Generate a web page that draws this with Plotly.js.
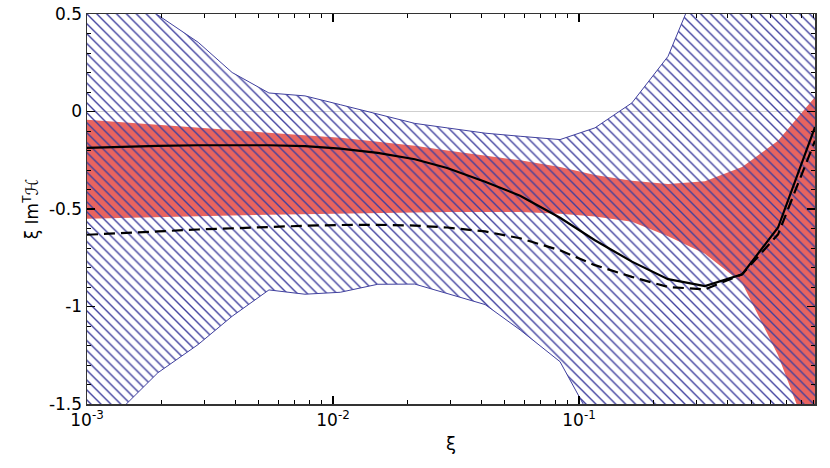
<!DOCTYPE html>
<html>
<head>
<meta charset="utf-8">
<script src="https://cdn.plot.ly/plotly-3.0.1.min.js"></script>
<style>
  html, body { margin: 0; padding: 0; background: #fff; }
  #chart { width: 830px; height: 468px; }
</style>
</head>
<body>
<div id="chart"></div>
<script>
// xi grid (log spaced)
const xi = [0.001, 0.00139, 0.00194, 0.00283, 0.00389, 0.00549, 0.00769, 0.0107,
            0.0152, 0.0215, 0.0291, 0.0415, 0.0576, 0.0837, 0.116, 0.164,
            0.230, 0.325, 0.460, 0.644, 0.91];

// outer (blue hatched) band
const blueUpper = [0.74, 0.62, 0.495, 0.355, 0.20, 0.095, 0.08, 0.035,
                   -0.015, -0.061, -0.084, -0.111, -0.127, -0.144, -0.084, 0.044,
                   0.283, 0.75, 1.2, 1.6, 2.0];
const blueLower = [-1.70, -1.52, -1.34, -1.195, -1.05, -0.915, -0.937, -0.927,
                   -0.886, -0.885, -0.932, -0.99, -1.12, -1.283, -1.61, -2.2,
                   -2.6, -3.0, -3.2, -3.4, -3.5];

// inner (red) band
const redUpper = [-0.042, -0.055, -0.068, -0.082, -0.094, -0.108, -0.120, -0.135,
                  -0.155, -0.175, -0.200, -0.225, -0.250, -0.285, -0.325, -0.355,
                  -0.372, -0.358, -0.285, -0.150, 0.075];
const redLower = [-0.550, -0.545, -0.541, -0.537, -0.533, -0.530, -0.527, -0.524,
                  -0.520, -0.517, -0.515, -0.515, -0.516, -0.524, -0.538, -0.566,
                  -0.640, -0.730, -0.880, -1.25, -1.75];

// central curves
const solidCurve = [-0.187, -0.180, -0.176, -0.173, -0.172, -0.173, -0.178, -0.190,
                    -0.212, -0.245, -0.290, -0.360, -0.432, -0.545, -0.660, -0.770,
                    -0.860, -0.895, -0.835, -0.595, -0.08];
const dashedCurve = [-0.632, -0.622, -0.615, -0.605, -0.598, -0.591, -0.586, -0.582,
                     -0.581, -0.585, -0.595, -0.615, -0.650, -0.712, -0.788, -0.848,
                     -0.900, -0.912, -0.835, -0.63, -0.15];

const yTicks = [0.5, 0, -0.5, -1, -1.5];
const yTickText = ['0.5', '0', '-0.5', '-1', '-1.5'];
const xTicks = [0.001, 0.01, 0.1];
const xTickText = ['10<sup>-3</sup>', '10<sup>-2</sup>', '10<sup>-1</sup>'];

const hatchBlue = '#40409e';
const bandRed = '#e8645f';

function buildTraces() {
    return [
        { x: xi, y: redLower, mode: 'lines', line: {width: 0, color: bandRed},
          hoverinfo: 'skip', showlegend: false },
        { x: xi, y: redUpper, mode: 'lines', fill: 'tonexty', fillcolor: bandRed,
          line: {width: 0, color: bandRed}, hoverinfo: 'skip', showlegend: false },
        { x: xi, y: blueLower, mode: 'lines', line: {width: 1, color: hatchBlue},
          hoverinfo: 'skip', showlegend: false },
        { x: xi, y: blueUpper, mode: 'lines', fill: 'tonexty',
          fillcolor: 'rgba(0,0,0,0)',
          fillpattern: {shape: '\\', fgcolor: hatchBlue, bgcolor: 'rgba(0,0,0,0)',
                        size: 7, solidity: 0.2},
          line: {width: 1, color: hatchBlue}, hoverinfo: 'skip', showlegend: false },
        { x: xi, y: solidCurve, mode: 'lines', line: {width: 2.2, color: '#000'},
          showlegend: false },
        { x: xi, y: dashedCurve, mode: 'lines',
          line: {width: 2.2, color: '#000', dash: '11px,6px'}, showlegend: false }
    ];
}

// minor tick positions on the log axis (2..9 per decade)
const xMinor = [];
[0.001, 0.01, 0.1].forEach(function(d) {
    for (let k = 2; k <= 9; k++) xMinor.push(k * d);
});

const layout = {
    width: 830,
    height: 468,
    margin: {l: 87, r: 15, t: 14, b: 64},
    paper_bgcolor: '#fff',
    plot_bgcolor: '#fff',
    font: {family: 'DejaVu Sans, sans-serif', size: 17, color: '#000'},
    xaxis: {
        type: 'log',
        range: [-3, Math.log10(0.91)],
        showgrid: false,
        zeroline: false,
        showline: true, linecolor: '#333', linewidth: 1.5, mirror: 'ticks',
        ticks: 'inside', ticklen: 8, tickwidth: 1.2, tickcolor: '#000',
        tickvals: xTicks, ticktext: xTickText,
        minor: {tickvals: xMinor, ticks: 'inside', ticklen: 4, tickwidth: 1, tickcolor: '#000'},
        title: {text: 'ξ', standoff: 8, font: {size: 18}}
    },
    yaxis: {
        range: [-1.5, 0.5],
        showgrid: false,
        zeroline: true, zerolinecolor: '#cfcfcf', zerolinewidth: 1.5,
        showline: true, linecolor: '#333', linewidth: 1.5, mirror: 'ticks',
        ticks: 'inside', ticklen: 8, tickwidth: 1.2, tickcolor: '#000',
        tickvals: yTicks, ticktext: yTickText,
        minor: {dtick: 0.1, ticks: 'inside', ticklen: 4, tickwidth: 1, tickcolor: '#000'},
        title: {text: 'ξ Im<sup>T</sup>ℋ', standoff: 6, font: {size: 17}}
    }
};

document.addEventListener('DOMContentLoaded', function() {
    Plotly.newPlot('chart', buildTraces(), layout, {staticPlot: true});
});
</script>
</body>
</html>
